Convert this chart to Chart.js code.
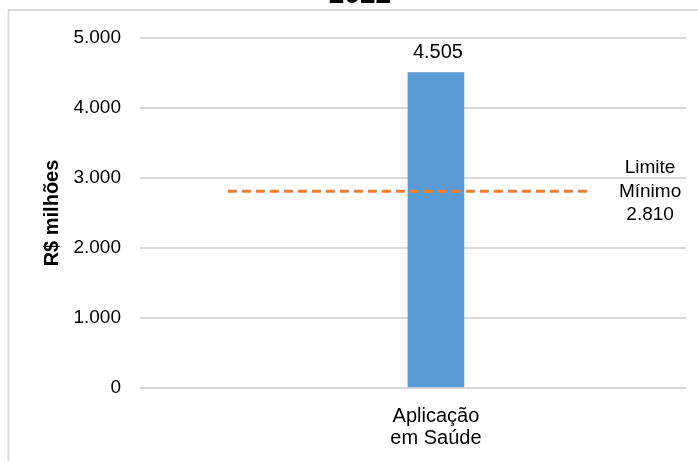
<!DOCTYPE html>
<html>
<head>
<meta charset="utf-8">
<script src="https://cdn.jsdelivr.net/npm/chart.js@4/dist/chart.umd.min.js"></script>
<style>
  html, body { margin: 0; padding: 0; background: #fff; }
  #wrap { width: 698px; height: 461px; }
</style>
</head>
<body>
<div id="wrap"><canvas id="c" width="698" height="461"></canvas></div>
<script>
// ---- data ----
const chartTitle = '2022';
const categories = [['Aplicação', 'em Saúde']];
const applied = [4505];
const limitValue = [2810];
const limitLabel = ['Limite', 'Mínimo'];
const yTicks = [0, 1000, 2000, 3000, 4000, 5000];
const yAxisTitle = 'R$ milhões';

const FONT = '"Liberation Sans", Arial, Helvetica, sans-serif';
const fmt = v => String(Math.round(v)).replace(/\B(?=(\d{3})+(?!\d))/g, '.');

// layout of the limit line along the horizontal axis (scale units)
const limitSpan = [-0.381, 0.286];

const framePlugin = {
  id: 'frameAndTitle',
  beforeDraw(chart) {
    const ctx = chart.ctx;
    ctx.save();
    ctx.fillStyle = '#fff';
    ctx.fillRect(0, 0, chart.width, chart.height);
    ctx.strokeStyle = '#d9d9d9';
    ctx.lineWidth = 2;
    ctx.strokeRect(8.5, 10, chart.width + 40, chart.height + 40);
    ctx.restore();
  },
  afterDraw(chart) {
    const ctx = chart.ctx;
    ctx.save();
    ctx.fillStyle = '#000';
    ctx.font = 'bold 28px ' + FONT;
    ctx.textAlign = 'center';
    ctx.textBaseline = 'alphabetic';
    ctx.fillText(chartTitle, 360, 3);
    ctx.restore();
  }
};

const labelPlugin = {
  id: 'valueLabels',
  afterDatasetsDraw(chart) {
    const ctx = chart.ctx;
    ctx.save();
    ctx.fillStyle = '#000';
    // bar value labels
    const barMeta = chart.getDatasetMeta(1);
    barMeta.data.forEach((el, i) => {
      ctx.font = '20px ' + FONT;
      ctx.textAlign = 'center';
      ctx.textBaseline = 'alphabetic';
      ctx.fillText(fmt(applied[i]), el.x + 2, el.y - 15);
    });
    // limit line label
    const lineMeta = chart.getDatasetMeta(0);
    const last = lineMeta.data[lineMeta.data.length - 1];
    const lines = [...limitLabel, fmt(limitValue[0])];
    ctx.font = '19px ' + FONT;
    ctx.textAlign = 'center';
    ctx.textBaseline = 'middle';
    const cx = last.x + 58;
    const cy = last.y;
    lines.forEach((t, k) => {
      ctx.fillText(t, cx, cy + (k - 1) * 23.5);
    });
    ctx.restore();
  }
};

new Chart(document.getElementById('c'), {
  type: 'bar',
  data: {
    datasets: [
      {
        type: 'line',
        label: 'Limite Mínimo',
        data: limitSpan.map(x => ({ x, y: limitValue[0] })),
        borderColor: '#ed7d31',
        borderWidth: 3,
        borderDash: [9, 5],
        pointRadius: 0,
        fill: false,
        order: 0
      },
      {
        type: 'bar',
        label: 'Aplicação em Saúde',
        data: applied.map((y, i) => ({ x: i, y })),
        backgroundColor: '#5b9bd5',
        borderWidth: 0,
        barThickness: 56,
        order: 1
      }
    ]
  },
  options: {
    responsive: false,
    animation: false,
    devicePixelRatio: 1,
    layout: { padding: { top: 38, right: 12, left: 0, bottom: 0 } },
    plugins: {
      legend: { display: false },
      tooltip: { enabled: false },
      title: { display: false }
    },
    scales: {
      x: {
        type: 'linear',
        min: -0.542,
        max: 0.458,
        offset: false,
        grid: { display: false, offset: false },
        border: { display: false },
        afterBuildTicks(scale) {
          scale.ticks = categories.map((c, i) => ({ value: i }));
        },
        afterFit(scale) { scale.height = 73; },
        ticks: {
          autoSkip: false,
          maxRotation: 0,
          padding: 9,
          color: '#000',
          font: { family: FONT, size: 20, lineHeight: 1.1 },
          callback: (v) => {
            const i = Math.round(v);
            return categories[i] || '';
          }
        }
      },
      y: {
        min: 0,
        max: 5000,
        afterBuildTicks(scale) {
          scale.ticks = yTicks.map(v => ({ value: v }));
        },
        afterFit(scale) { scale.width = 140; },
        grid: { color: '#d9d9d9', lineWidth: 2, drawTicks: false },
        border: { display: false },
        ticks: {
          padding: 19,
          color: '#000',
          font: { family: FONT, size: 19 },
          callback: v => fmt(v)
        },
        title: {
          display: true,
          text: yAxisTitle,
          color: '#000',
          padding: { top: 40, bottom: 0 },
          font: { family: FONT, size: 20, weight: 'bold', lineHeight: 1.2 }
        }
      }
    }
  },
  plugins: [framePlugin, labelPlugin]
});
</script>
</body>
</html>
